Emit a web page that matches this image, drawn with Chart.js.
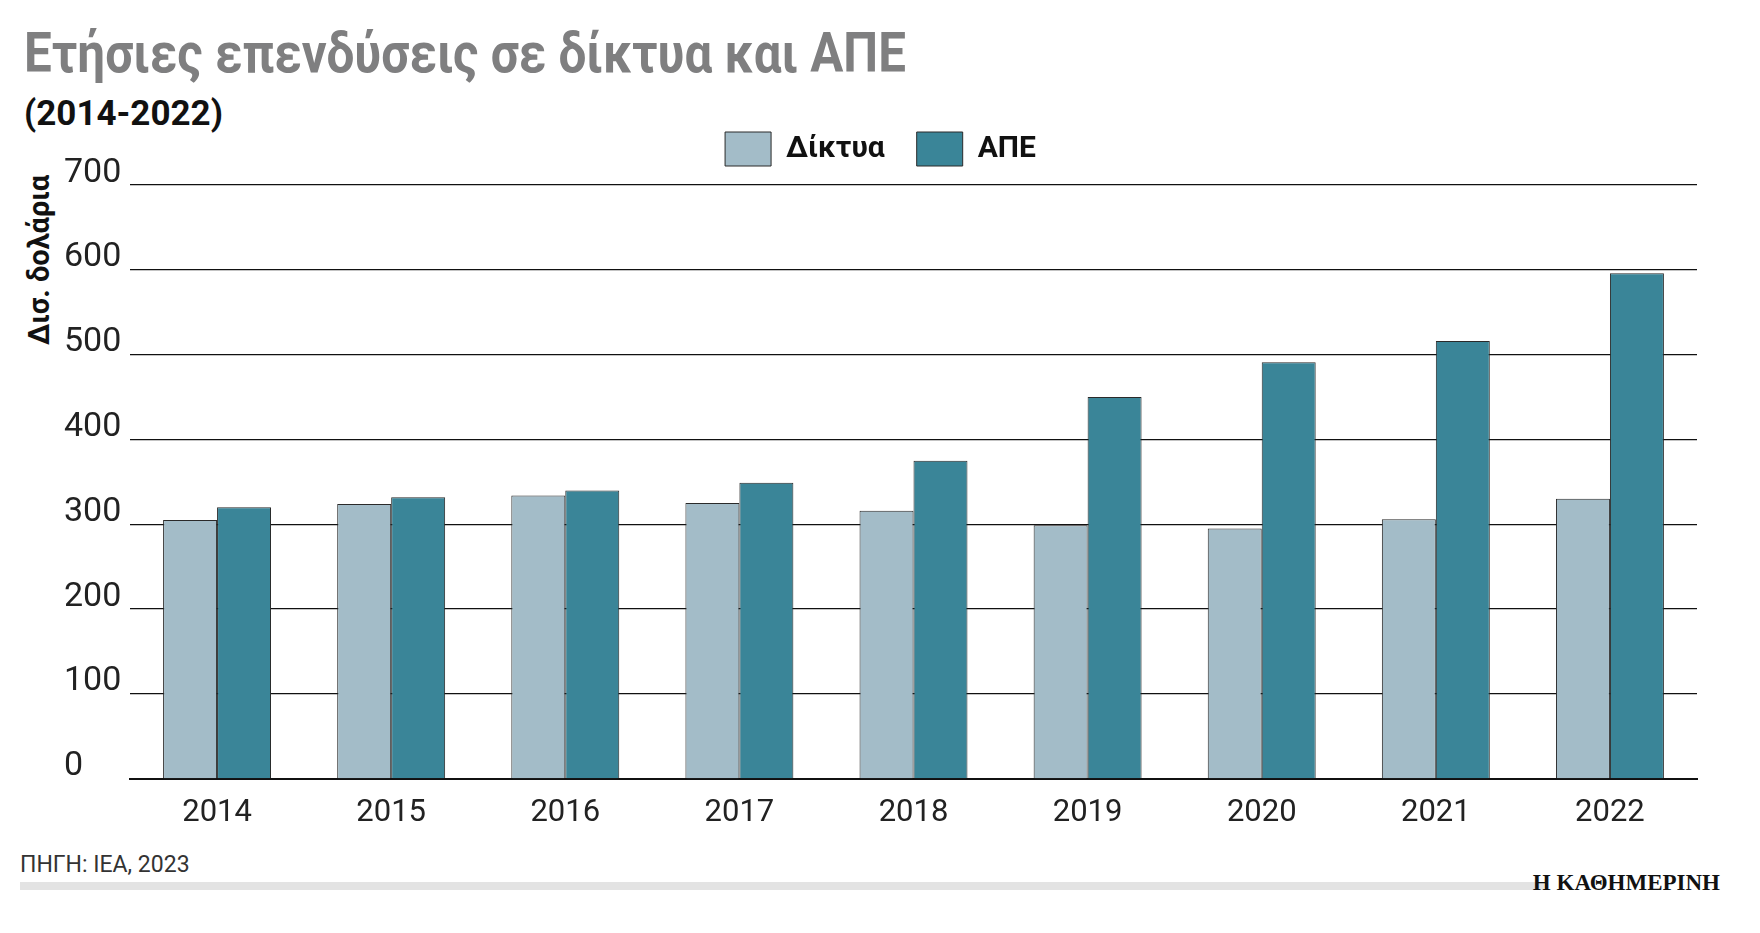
<!DOCTYPE html>
<html>
<head>
<meta charset="utf-8">
<script src="https://cdn.jsdelivr.net/npm/chart.js@4"></script>
<style>
  body { margin: 0; background: #fff; font-family: "Roboto", sans-serif; }
  #title { position: absolute; left: 24px; top: 20px; font-size: 56px; font-weight: bold; color: #7f7f80; transform: scaleX(0.88); transform-origin: left top; white-space: nowrap; }
  #subtitle { position: absolute; left: 24px; top: 93px; font-size: 35px; font-weight: bold; color: #111; }
  #ytitle { position: absolute; left: 22px; top: 345px; transform: rotate(-90deg); transform-origin: left top; font-size: 29px; font-weight: bold; color: #111; white-space: nowrap; }
  #wrap { position: absolute; left: 10px; top: 100px; width: 1730px; height: 740px; }
  #source { position: absolute; left: 20px; top: 851px; font-size: 23px; color: #333; }
  #bar { position: absolute; left: 20px; top: 882px; width: 1524px; height: 8px; background: #e3e3e3; }
  #brand { position: absolute; right: 40px; top: 870px; font-family: "Liberation Serif", serif; font-weight: bold; font-size: 23px; color: #111; }
</style>
</head>
<body>
<div id="title">Ετήσιες επενδύσεις σε δίκτυα και ΑΠΕ</div>
<div id="subtitle">(2014-2022)</div>
<div id="ytitle">Δισ. δολάρια</div>
<div id="wrap"><canvas id="chart"></canvas></div>
<div id="source">ΠΗΓΗ: IEA, 2023</div>
<div id="bar"></div>
<div id="brand">Η ΚΑΘΗΜΕΡΙΝΗ</div>
<script>
const years = ['2014', '2015', '2016', '2017', '2018', '2019', '2020', '2021', '2022'];
const networks = [305, 324, 334, 325, 316, 299, 295, 306, 330];
const renewables = [320, 332, 340, 349, 375, 450, 491, 516, 596];
const yTicks = [0, 100, 200, 300, 400, 500, 600, 700];

// leave a little more room under the legend
const legendGap = {
    id: 'legendGap',
    afterInit(chart) {
        const fit = chart.legend.fit;
        chart.legend.fit = function () { fit.call(this); this.height += 9; };
    }
};

new Chart(document.getElementById('chart'), {
    type: 'bar',
    data: {
        labels: years,
        datasets: [{
            label: 'Δίκτυα',
            data: networks,
            backgroundColor: '#a3bcc8',
            borderColor: '#2a2a2a',
            borderWidth: 1
        }, {
            label: 'ΑΠΕ',
            data: renewables,
            backgroundColor: '#3a8598',
            borderColor: '#2a2a2a',
            borderWidth: 1
        }]
    },
    plugins: [legendGap],
    options: {
        responsive: true,
        maintainAspectRatio: false,
        animation: false,
        layout: { padding: { left: 54, right: 43 } },
        datasets: { bar: { categoryPercentage: 0.62, barPercentage: 1 } },
        plugins: {
            legend: {
                labels: {
                    font: { size: 30, family: 'Roboto', weight: 'bold' },
                    color: '#111',
                    boxWidth: 46,
                    boxHeight: 34,
                    padding: 32
                }
            },
            tooltip: { enabled: false }
        },
        scales: {
            x: {
                grid: { display: false },
                border: { color: '#111', width: 2 },
                ticks: { color: '#222', font: { size: 31, family: 'Roboto' }, padding: 8 }
            },
            y: {
                min: 0, max: 700,
                afterBuildTicks: axis => { axis.ticks = yTicks.map(v => ({ value: v })); },
                afterFit: axis => { axis.width = 66; },
                grid: { color: '#111', lineWidth: 1.3, drawTicks: false },
                border: { display: false },
                ticks: { color: '#222', font: { size: 34, family: 'Roboto' }, crossAlign: 'far', padding: 12, labelOffset: -12 }
            }
        }
    }
});
</script>
</body>
</html>
